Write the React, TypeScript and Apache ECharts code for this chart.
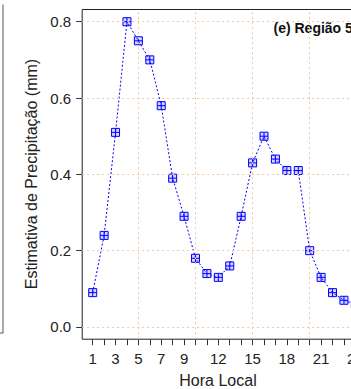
import React, { useEffect, useRef } from "react";
import * as echarts from "echarts";

const hours = [1, 2, 3, 4, 5, 6, 7, 8, 9, 10, 11, 12, 13, 14, 15, 16, 17, 18, 19, 20, 21, 22, 23, 24];
const precip = [0.09, 0.24, 0.51, 0.8, 0.75, 0.7, 0.58, 0.39, 0.29, 0.18, 0.14, 0.13, 0.16, 0.29, 0.43, 0.5, 0.44, 0.41, 0.41, 0.2, 0.13, 0.09, 0.07, 0.06];
const xTickLabels = [1, 3, 5, 7, 9, 12, 15, 18, 21, 24];
const yTicks = [0, 0.2, 0.4, 0.6, 0.8];
const xGrid = [5, 10, 15, 20];
const titleText = "(e) Região 5";
const xTitle = "Hora Local";
const yTitle = "Estimativa de Precipitação (mm)";

const FONT = "'Liberation Sans', Arial, sans-serif";
const GRID_COLOR = "#F2C6A0";

export default function App() {
  const ref = useRef<HTMLDivElement>(null);
  useEffect(() => {
    if (!ref.current) return;
    const chart = echarts.init(ref.current, null, { renderer: "svg" });
    const gridLeft = 82.2;
    const pxPerHour = 11.42;
    const xMin = 0.08;
    const xMax = 24.92;
    chart.setOption({
      animation: false,
      textStyle: { fontFamily: FONT },
      grid: {
        left: gridLeft,
        top: 9.5,
        width: (xMax - xMin) * pxPerHour,
        height: 329.7,
        show: true,
        borderColor: "#222",
        borderWidth: 1,
        backgroundColor: "transparent",
      },
      xAxis: {
        type: "value",
        min: xMin,
        max: xMax,
        axisLine: { show: false, onZero: false },
        splitLine: { show: false },
        axisTick: {
          show: true,
          length: 6,
          customValues: hours,
          lineStyle: { color: "#333", width: 1 },
        },
        axisLabel: {
          customValues: xTickLabels,
          fontSize: 15,
          color: "#222",
          margin: 12,
          fontFamily: FONT,
        },
      },
      yAxis: {
        type: "value",
        min: -0.032,
        max: 0.832,
        axisLine: { show: false, onZero: false },
        splitLine: { show: false },
        axisTick: {
          show: true,
          length: 6,
          customValues: yTicks,
          lineStyle: { color: "#333", width: 1 },
        },
        axisLabel: {
          customValues: yTicks,
          fontSize: 15,
          color: "#222",
          margin: 11,
          fontFamily: FONT,
          formatter: (v: number) => v.toFixed(1),
        },
      },
      series: [
        {
          type: "line",
          data: [],
          silent: true,
          markLine: {
            silent: true,
            symbol: "none",
            label: { show: false },
            lineStyle: { color: GRID_COLOR, type: [2, 3], width: 1 },
            data: [
              ...xGrid.map((v) => ({ xAxis: v })),
              ...yTicks.map((v) => ({ yAxis: v })),
            ],
          },
        },
        {
          type: "line",
          data: hours.map((h, i) => [h, precip[i]]),
          symbol: "path://M0,0H10V10H0ZM5,0V10M0,5H10",
          symbolSize: 8,
          itemStyle: {
            color: "rgba(90,90,255,0.25)",
            borderColor: "#0000FF",
            borderWidth: 1,
          },
          lineStyle: { color: "#0000FF", width: 1, type: [2, 2] },
          z: 3,
        },
      ],
      graphic: [
        {
          type: "line",
          shape: { x1: 3, y1: 4.5, x2: 3, y2: 333 },
          style: { stroke: "#555", lineWidth: 1 },
        },
        {
          type: "line",
          shape: { x1: 0, y1: 333, x2: 3, y2: 333 },
          style: { stroke: "#555", lineWidth: 1 },
        },
        {
          type: "text",
          x: 273.5,
          y: 28,
          style: {
            text: titleText,
            font: `bold 14px ${FONT}`,
            fill: "#111",
            textAlign: "left",
            textVerticalAlign: "middle",
          },
        },
        {
          type: "text",
          x: 218,
          y: 380,
          style: {
            text: xTitle,
            font: `16px ${FONT}`,
            fill: "#222",
            textAlign: "center",
            textVerticalAlign: "middle",
          },
        },
        {
          type: "text",
          x: 31,
          y: 174,
          rotation: Math.PI / 2,
          style: {
            text: yTitle,
            font: `16px ${FONT}`,
            fill: "#222",
            textAlign: "center",
            textVerticalAlign: "middle",
          },
        },
      ],
    });
    return () => chart.dispose();
  }, []);
  return (
    <div
      ref={ref}
      style={{ position: "fixed", left: 0, top: 0, width: 400, height: 389, background: "#fff" }}
    />
  );
}
